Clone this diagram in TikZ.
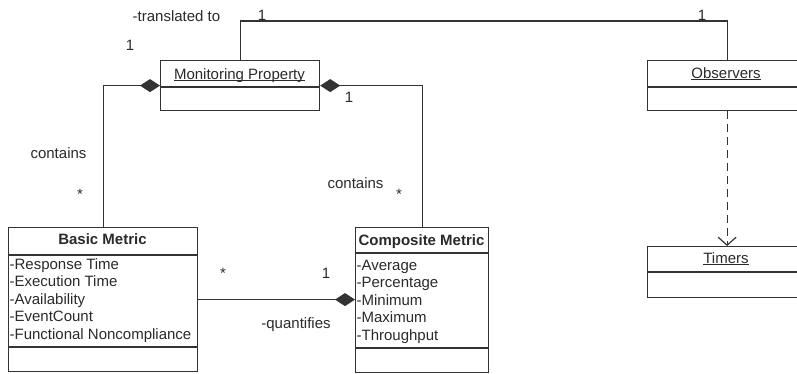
\documentclass[tikz,border=0pt]{standalone}
\usepackage{fontspec}
\setmainfont{Liberation Sans}
\usetikzlibrary{arrows.meta}
\definecolor{ink}{HTML}{333333}
\definecolor{txt}{HTML}{2a2a2a}
% underline at a fixed depth below the baseline
\newcommand\ulname[1]{\setbox0\hbox{#1}\rlap{\rule[-2.2pt]{\wd0}{0.9pt}}\box0}
\begin{document}
\begin{tikzpicture}[x=1pt,y=-1pt,
  line width=1.2pt, draw=ink,
  every node/.style={text=txt, font=\fontsize{15}{18}\selectfont, inner sep=0pt},
  umlbox/.style={draw=ink, line width=1.2pt, anchor=north west, inner sep=0pt},
  lbl/.style={anchor=base},
  attr/.style={anchor=base west},
  comp/.style={-{Diamond[length=20pt,width=13pt]}},
  dep/.style={dash pattern=on 8pt off 5pt, -{Straight Barb[length=8pt,width=18pt]}}]
\useasboundingbox (0,0) rectangle (797,373);
\begin{scope}
\clip (0,0) rectangle (797,373);

% class boxes
\node[umlbox, minimum width=159pt, minimum height=50pt] (mp) at (160,60) {};
\node[umlbox, minimum width=159pt, minimum height=50pt] (obs) at (647,60) {};
\node[umlbox, minimum width=189pt, minimum height=144pt] (bm) at (8,227) {};
\node[umlbox, minimum width=133pt, minimum height=145pt] (cm) at (355,227) {};
\node[umlbox, minimum width=159pt, minimum height=51pt] (tim) at (647,246) {};

% compartment dividers
\coordinate (ya) at (0,87);
\coordinate (yb) at (0,255);
\coordinate (yc) at (0,347);
\coordinate (yd) at (0,253);
\coordinate (ye) at (0,348);
\coordinate (yf) at (0,272);
\draw (mp.west |- ya) -- (mp.east |- ya);
\draw (obs.west |- ya) -- (obs.east |- ya);
\draw (bm.west |- yb) -- (bm.east |- yb);
\draw (bm.west |- yc) -- (bm.east |- yc);
\draw (cm.west |- yd) -- (cm.east |- yd);
\draw (cm.west |- ye) -- (cm.east |- ye);
\draw (tim.west |- yf) -- (tim.east |- yf);

% class names
\node[lbl] (mpt) at (239.5,79) {\ulname{Monitoring Property}};
\node[lbl] (obst) at (726,78) {\ulname{Observers}};
\node[lbl] (timt) at (726,263) {\ulname{Timers}};
\node[lbl] (bmt) at (102.5,244) {\textbf{Basic Metric}};
\node[lbl] (cmt) at (421.5,245) {\textbf{Composite Metric}};

% attributes
\node[attr] (b1) at (9,269) {-Response Time};
\node[attr] (b2) at (9,286.6) {-Execution Time};
\node[attr] (b3) at (9,304.2) {-Availability};
\node[attr] (b4) at (9,321.8) {-EventCount};
\node[attr] (b5) at (9,339.4) {-Functional Noncompliance};
\node[attr] (c1) at (356,270) {-Average};
\node[attr] (c2) at (356,287.5) {-Percentage};
\node[attr] (c3) at (356,305) {-Minimum};
\node[attr] (c4) at (356,322.5) {-Maximum};
\node[attr] (c5) at (356,340) {-Throughput};

% associations
\coordinate (top) at (0,21);
\draw (mp.north) -- (mp.north |- top) -| (obs.north);
\draw[comp] (bm.north) |- (mp.west);
\draw[comp] (cm.north) |- (mp.east);
\draw[comp] (bm.east) -- (bm.east -| cm.west);
\draw[dep] (obs.south) -- (tim.north);

% association labels and multiplicities
\node[lbl] (tl) at (176.5,21) {-translated to};
\node[lbl] (m1) at (262,20) {1};
\node[lbl] (m2) at (702,20) {1};
\node[lbl] (m3) at (130,50) {1};
\node[lbl] (m4) at (349,102) {1};
\node[lbl] (ct1) at (58.5,158) {contains};
\node[lbl] (s1) at (80,199) {*};
\node[lbl] (ct2) at (355.5,188) {contains};
\node[lbl] (s2) at (399,199) {*};
\node[lbl] (s3) at (223,278) {*};
\node[lbl] (m5) at (326,278) {1};
\node[lbl] (q) at (296,328) {-quantifies};
\end{scope}
\end{tikzpicture}
\end{document}
